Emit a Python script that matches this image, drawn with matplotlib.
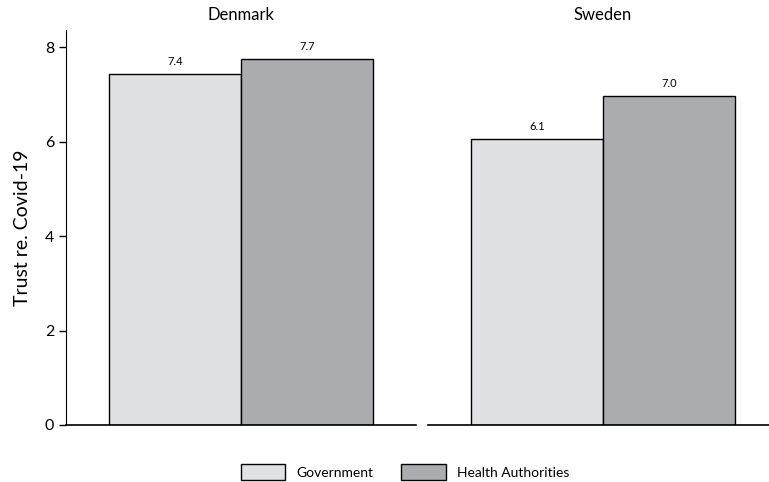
import matplotlib

matplotlib.use("Agg")
import matplotlib.pyplot as plt
from matplotlib.patches import Patch

plt.rcParams["font.family"] = ["Lato", "DejaVu Sans"]

# data
countries = ["Denmark", "Sweden"]
series = ["Government", "Health Authorities"]
government = [7.42, 6.06]
health_authorities = [7.74, 6.97]

colors = ["#e0e1e3", "#abacb0"]
W, H = 769, 482

fig = plt.figure(figsize=(W / 100, H / 100), dpi=100)

panel_left = [66, 428]
panel_w = 350
bottom, top = 425, 30
bar_w = 0.376
offsets = [-bar_w / 2, bar_w / 2]

for i, country in enumerate(countries):
    ax = fig.add_axes([panel_left[i] / W, (H - bottom) / H, panel_w / W, (bottom - top) / H])
    values = [government[i], health_authorities[i]]
    for j, v in enumerate(values):
        ax.bar(offsets[j], v, width=bar_w, color=colors[j], edgecolor="black", linewidth=1.0, zorder=2)
        ax.annotate(f"{v:.1f}", (offsets[j], v), xytext=(0, 5), textcoords="offset points",
                    ha="center", va="bottom", fontsize=8)
    ax.set_xlim(-0.5, 0.5)
    ax.set_ylim(0, 8.36)
    ax.set_xticks([])
    ax.set_title(country, fontsize=12, pad=7)
    for s in ["top", "right"]:
        ax.spines[s].set_visible(False)
    ax.spines["bottom"].set_linewidth(1.2)
    if i == 0:
        ax.set_yticks([0, 2, 4, 6, 8])
        ax.tick_params(axis="y", labelsize=11.5, length=5, width=1)
        ax.set_ylabel("Trust re. Covid-19", fontsize=14, labelpad=10)
    else:
        ax.spines["left"].set_visible(False)
        ax.set_yticks([])

handles = [Patch(facecolor=colors[k], edgecolor="black", linewidth=1.0, label=series[k]) for k in range(2)]
fig.legend(handles=handles, loc="center", bbox_to_anchor=(405 / W, (H - 472) / H), ncol=2,
           frameon=False, fontsize=10, handlelength=3.2, handleheight=1.4,
           handletextpad=0.8, columnspacing=2.0)

fig.savefig("out.png", dpi=100)
